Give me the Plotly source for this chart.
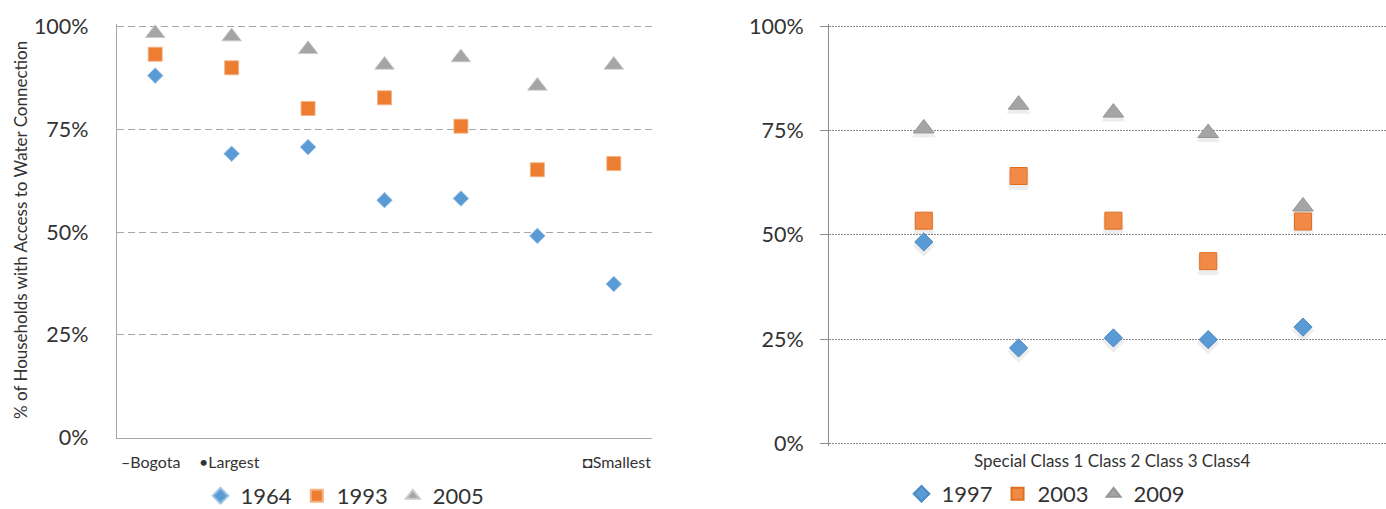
import plotly.graph_objects as go

# ---------------- data ----------------
# Left panel: municipalities ranked by size (1 = Bogota ... 7 = smallest)
size_rank = [1, 2, 3, 4, 5, 6, 7]
left_axis_labels = ["\u2013Bogota", "\u2022Largest", "\u25d8Smallest"]
share_1964 = [0.881, 0.691, 0.707, 0.578, 0.582, 0.491, 0.374]
share_1993 = [0.933, 0.900, 0.801, 0.827, 0.758, 0.652, 0.667]
share_2005 = [0.984, 0.976, 0.945, 0.907, 0.925, 0.856, 0.907]

# Right panel: municipality classes
classes = ["Special", "Class 1", "Class 2", "Class 3", "Class4"]
class_pos = [1, 2, 3, 4, 5]
share_1997 = [0.483, 0.229, 0.253, 0.249, 0.279]
share_2003 = [0.534, 0.641, 0.534, 0.437, 0.532]
share_2009 = [0.755, 0.812, 0.793, 0.744, 0.568]

pct_ticks = [0, 0.25, 0.5, 0.75, 1.0]

BLUE = "#5B9BD5"
ORANGE = "#ED7D31"
GRAY = "#A5A5A5"
TXT = "#333333"
FONT = "Lato, 'Open Sans', sans-serif"

fig = go.Figure()

# ---------------- left panel ----------------
fig.add_trace(go.Scatter(x=size_rank, y=share_1964, mode="markers", name="1964",
                         marker=dict(symbol="diamond", size=12, color=BLUE,
                                     line=dict(color="#9DC3E6", width=0.8)),
                         xaxis="x", yaxis="y", legend="legend"))
fig.add_trace(go.Scatter(x=size_rank, y=share_1993, mode="markers", name="1993",
                         marker=dict(symbol="square", size=14, color=ORANGE,
                                     line=dict(color="#F4B183", width=0.8)),
                         xaxis="x", yaxis="y", legend="legend"))
fig.add_trace(go.Scatter(x=size_rank, y=share_2005, mode="markers", name="2005",
                         marker=dict(symbol="triangle-up", size=17, color=GRAY,
                                     line=dict(color="#C9C9C9", width=0.8)),
                         xaxis="x", yaxis="y", legend="legend"))

# ---------------- right panel ----------------
# soft drop shadows (same data, shifted slightly down)
shadow_shift = 0.009
for vals, sym, sz in [(share_1997, "diamond", 14), (share_2003, "square", 17),
                      (share_2009, "triangle-up", 18)]:
    fig.add_trace(go.Scatter(x=class_pos, y=[v - shadow_shift for v in vals], mode="markers",
                             marker=dict(symbol=sym, size=sz + 3, color="rgba(0,0,0,0.07)",
                                         line=dict(width=0)),
                             hoverinfo="skip", showlegend=False, xaxis="x2", yaxis="y2"))

fig.add_trace(go.Scatter(x=class_pos, y=share_1997, mode="markers", name="1997",
                         marker=dict(symbol="diamond", size=14, color=BLUE,
                                     line=dict(color="#4A8AC4", width=1)),
                         xaxis="x2", yaxis="y2", legend="legend2"))
fig.add_trace(go.Scatter(x=class_pos, y=share_2003, mode="markers", name="2003",
                         marker=dict(symbol="square", size=17, color="#F08A46",
                                     line=dict(color="#E06F20", width=1)),
                         xaxis="x2", yaxis="y2", legend="legend2"))
fig.add_trace(go.Scatter(x=class_pos, y=share_2009, mode="markers", name="2009",
                         marker=dict(symbol="triangle-up", size=18, color=GRAY,
                                     line=dict(color="#959595", width=1)),
                         xaxis="x2", yaxis="y2", legend="legend2"))

W, H = 1386, 509
EPS = 0.006  # small padding so the edge gridlines are drawn

annotations = [
    dict(text="% of Households with Access to Water Connection", textangle=-90,
         x=20 / W, y=1 - 230 / H, xref="paper", yref="paper", showarrow=False,
         xanchor="center", yanchor="middle", font=dict(size=17, color=TXT, family=FONT)),
    dict(text=left_axis_labels[0], x=119 / W, y=1 - 461 / H, xref="paper", yref="paper",
         showarrow=False, xanchor="left", yanchor="middle", font=dict(size=16, color=TXT, family=FONT)),
    dict(text=left_axis_labels[1], x=197 / W, y=1 - 461 / H, xref="paper", yref="paper",
         showarrow=False, xanchor="left", yanchor="middle", font=dict(size=16, color=TXT, family=FONT)),
    dict(text=left_axis_labels[2], x=653 / W, y=1 - 461 / H, xref="paper", yref="paper",
         showarrow=False, xanchor="right", yanchor="middle", font=dict(size=16, color=TXT, family=FONT)),
    dict(text=" ".join(classes), x=1112 / W, y=1 - 460 / H, xref="paper", yref="paper",
         showarrow=False, xanchor="center", yanchor="middle", font=dict(size=17, color=TXT, family=FONT)),
]

def dom(bottom_px, top_px, lo_pad, hi_pad):
    span = bottom_px - top_px  # pixels for the 0..1 range
    b = bottom_px + lo_pad * span
    t = top_px - hi_pad * span
    return [1 - b / H, 1 - t / H]

fig.update_layout(
    width=W, height=H,
    margin=dict(l=0, r=0, t=0, b=0, autoexpand=False),
    paper_bgcolor="white", plot_bgcolor="white",
    font=dict(family=FONT, color=TXT),
    showlegend=True,
    xaxis=dict(domain=[117 / W, 652 / W], range=[0.5, 7.5], showticklabels=False,
               showgrid=False, zeroline=False, showline=True, linecolor="#A6A6A6",
               linewidth=1.3, ticks="", anchor="y"),
    yaxis=dict(domain=dom(437.7, 26.7, 0, EPS), range=[0, 1 + EPS], tickvals=pct_ticks,
               tickformat=".0%", showgrid=True, gridcolor="#A6A6A6", griddash="7px,4px",
               gridwidth=1, zeroline=False, showline=True, linecolor="#A6A6A6", linewidth=1.3,
               ticks="", ticklabelstandoff=23, tickfont=dict(size=21.5, color=TXT, family=FONT),
               anchor="x"),
    xaxis2=dict(domain=[829 / W, 1.0], range=[0, (W - 829) / 94.8], showticklabels=False,
                showgrid=False, zeroline=False, showline=False, ticks="", anchor="y2"),
    yaxis2=dict(domain=dom(443.5, 26.2, EPS, EPS), range=[-EPS, 1 + EPS], tickvals=pct_ticks,
                tickformat=".0%", showgrid=True, gridcolor="#8C8C8C", griddash="2px,1px",
                gridwidth=1, zeroline=False, showline=True, linecolor="#8C8C8C", linewidth=1,
                ticks="outside", ticklen=8, tickcolor="#8C8C8C", ticklabelstandoff=12,
                tickfont=dict(size=21.5, color=TXT, family=FONT), anchor="x2"),
    legend=dict(orientation="h", x=345 / W, xanchor="center", y=1 - 496 / H, yanchor="middle",
                font=dict(size=22, color=TXT, family=FONT), itemsizing="constant",
                bgcolor="rgba(0,0,0,0)", itemwidth=30),
    legend2=dict(orientation="h", x=1046 / W, xanchor="center", y=1 - 494 / H, yanchor="middle",
                 font=dict(size=22, color=TXT, family=FONT), itemsizing="constant",
                 bgcolor="rgba(0,0,0,0)", itemwidth=30),
    annotations=annotations,
)

fig.write_html("out.html", config={"displayModeBar": False},
               post_script="document.body.style.margin='0px';document.body.style.overflow='hidden';")
